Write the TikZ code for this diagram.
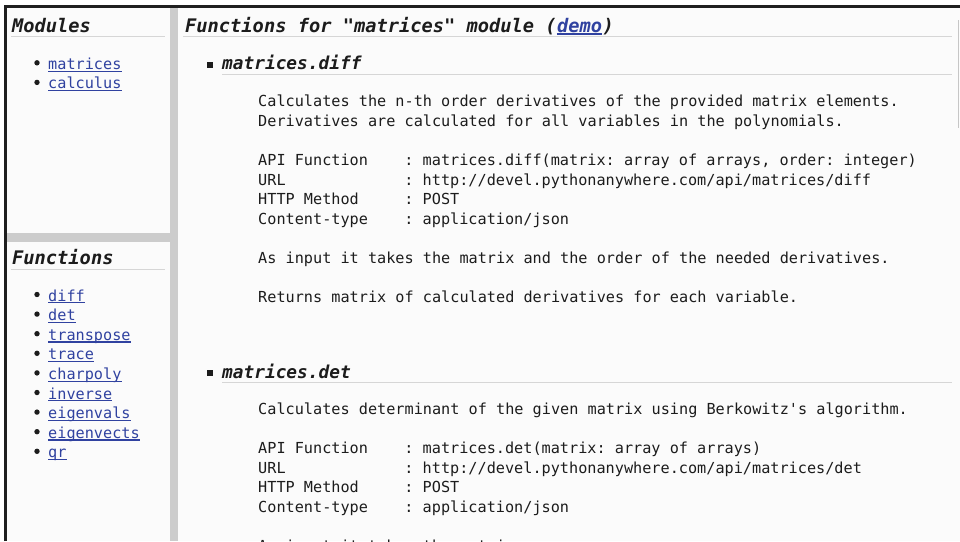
\documentclass[tikz,border=0pt]{standalone}
\usepackage{fontspec}
\newfontfamily\codefont{DejaVu Sans Mono}

\definecolor{ink}{RGB}{28,28,28}
\definecolor{linkblue}{RGB}{48,66,160}
\definecolor{pagebg}{RGB}{251,251,251}
\definecolor{framegray}{RGB}{204,204,204}
\definecolor{rulegray}{RGB}{214,214,214}

\tikzset{
    txt/.style={anchor=base west, inner sep=0pt, text=ink,
        font=\codefont\frenchspacing\fontsize{15.2}{18}\selectfont},
    head/.style={txt, font=\codefont\frenchspacing\bfseries\itshape\fontsize{18.7}{22}\selectfont},
    subhead/.style={txt, font=\codefont\frenchspacing\bfseries\itshape\fontsize{17.8}{21}\selectfont},
    link/.style={text=linkblue},
    underline/.style={draw=linkblue, line width=1.1pt},
    rule/.style={draw=rulegray, line width=1pt},
}

\begin{document}
\begin{tikzpicture}[x=1pt, y=-1pt]
    \useasboundingbox (0,0) rectangle (960,541);
    \fill[white] (0,0) rectangle (960,541);
    \fill[pagebg] (5,6) rectangle (960,541);

    % frame borders and dividers
    \draw[line width=2.6pt, black!88] (5.3,541) -- (5.3,6.2) -- (960,6.2);
    \fill[framegray] (170,7.5) rectangle (178,541);
    \fill[framegray] (6.6,233.3) rectangle (170,241.7);
    \draw[draw=gray!45, line width=0.8pt] (958.5,20) -- (958.5,128);

    % modules frame
    \node[head] (modules) at (12,32) {Modules};
    \draw[rule] (11,36) -- (165,36);
    \foreach \name [count=\i] in {matrices, calculus}{
        \fill[ink] (37, {43.2+19.6*\i}) circle (2.7);
        \node[txt, link] (mod\i) at (48, {49.7+19.6*\i}) {\name};
        \draw[underline] ([yshift=-1.8pt]mod\i.base west) -- ([yshift=-1.8pt]mod\i.base east);
    }

    % functions frame
    \node[head] (functions) at (12,264) {Functions};
    \draw[rule] (11,269) -- (165,269);
    \foreach \name [count=\i] in {diff, det, transpose, trace, charpoly, inverse, eigenvals, eigenvects, qr}{
        \fill[ink] (37, {274.9+19.6*\i}) circle (2.7);
        \node[txt, link] (fn\i) at (48, {281.4+19.6*\i}) {\name};
        \draw[underline] ([yshift=-1.8pt]fn\i.base west) -- ([yshift=-1.8pt]fn\i.base east);
    }

    % main frame
    \node[head] (title) at (185,32) {Functions for "matrices" module (};
    \node[head, link] (demo) at (title.base east) {demo};
    \node[head] (titleend) at (demo.base east) {)};
    \draw[underline] ([yshift=-2pt]demo.base west) -- ([yshift=-2pt]demo.base east);
    \draw[rule] (183,36.5) -- (952,36.5);

    % matrices.diff
    \fill[ink] (207,62) rectangle (213,67.5);
    \node[subhead] (diffhead) at (222,69) {matrices.diff};
    \draw[rule] (222,74) -- (952,74);
    \node[txt] (diffdesc1) at (258,106) {Calculates the n-th order derivatives of the provided matrix elements.};
    \node[txt] (diffdesc2) at (258,126) {Derivatives are calculated for all variables in the polynomials.};
    \node[txt] (diffapi) at (258,165.5) {API Function};
    \node[txt] (diffapival) at (404.2,165.5) {: matrices.diff(matrix: array of arrays, order: integer)};
    \node[txt] (diffurl) at (258,185.2) {URL};
    \node[txt] (diffurlval) at (404.2,185.2) {: http://devel.pythonanywhere.com/api/matrices/diff};
    \node[txt] (diffmethod) at (258,204.8) {HTTP Method};
    \node[txt] (diffmethodval) at (404.2,204.8) {: POST};
    \node[txt] (difftype) at (258,224.3) {Content-type};
    \node[txt] (difftypeval) at (404.2,224.3) {: application/json};
    \node[txt] (diffinput) at (258,263.3) {As input it takes the matrix and the order of the needed derivatives.};
    \node[txt] (diffreturn) at (258,302) {Returns matrix of calculated derivatives for each variable.};

    % matrices.det
    \fill[ink] (207,370) rectangle (213,375.5);
    \node[subhead] (dethead) at (222,378) {matrices.det};
    \draw[rule] (222,382.5) -- (952,382.5);
    \node[txt] (detdesc) at (258,414) {Calculates determinant of the given matrix using Berkowitz\textquotesingle s algorithm.};
    \node[txt] (detapi) at (258,453.5) {API Function};
    \node[txt] (detapival) at (404.2,453.5) {: matrices.det(matrix: array of arrays)};
    \node[txt] (deturl) at (258,473.2) {URL};
    \node[txt] (deturlval) at (404.2,473.2) {: http://devel.pythonanywhere.com/api/matrices/det};
    \node[txt] (detmethod) at (258,492.8) {HTTP Method};
    \node[txt] (detmethodval) at (404.2,492.8) {: POST};
    \node[txt] (dettype) at (258,512.3) {Content-type};
    \node[txt] (dettypeval) at (404.2,512.3) {: application/json};
    \begin{scope}
        \clip (178,0) rectangle (960,541);
        \node[txt] (detinput) at (258,551.5) {As input it takes the matrix.};
    \end{scope}
\end{tikzpicture}
\end{document}
